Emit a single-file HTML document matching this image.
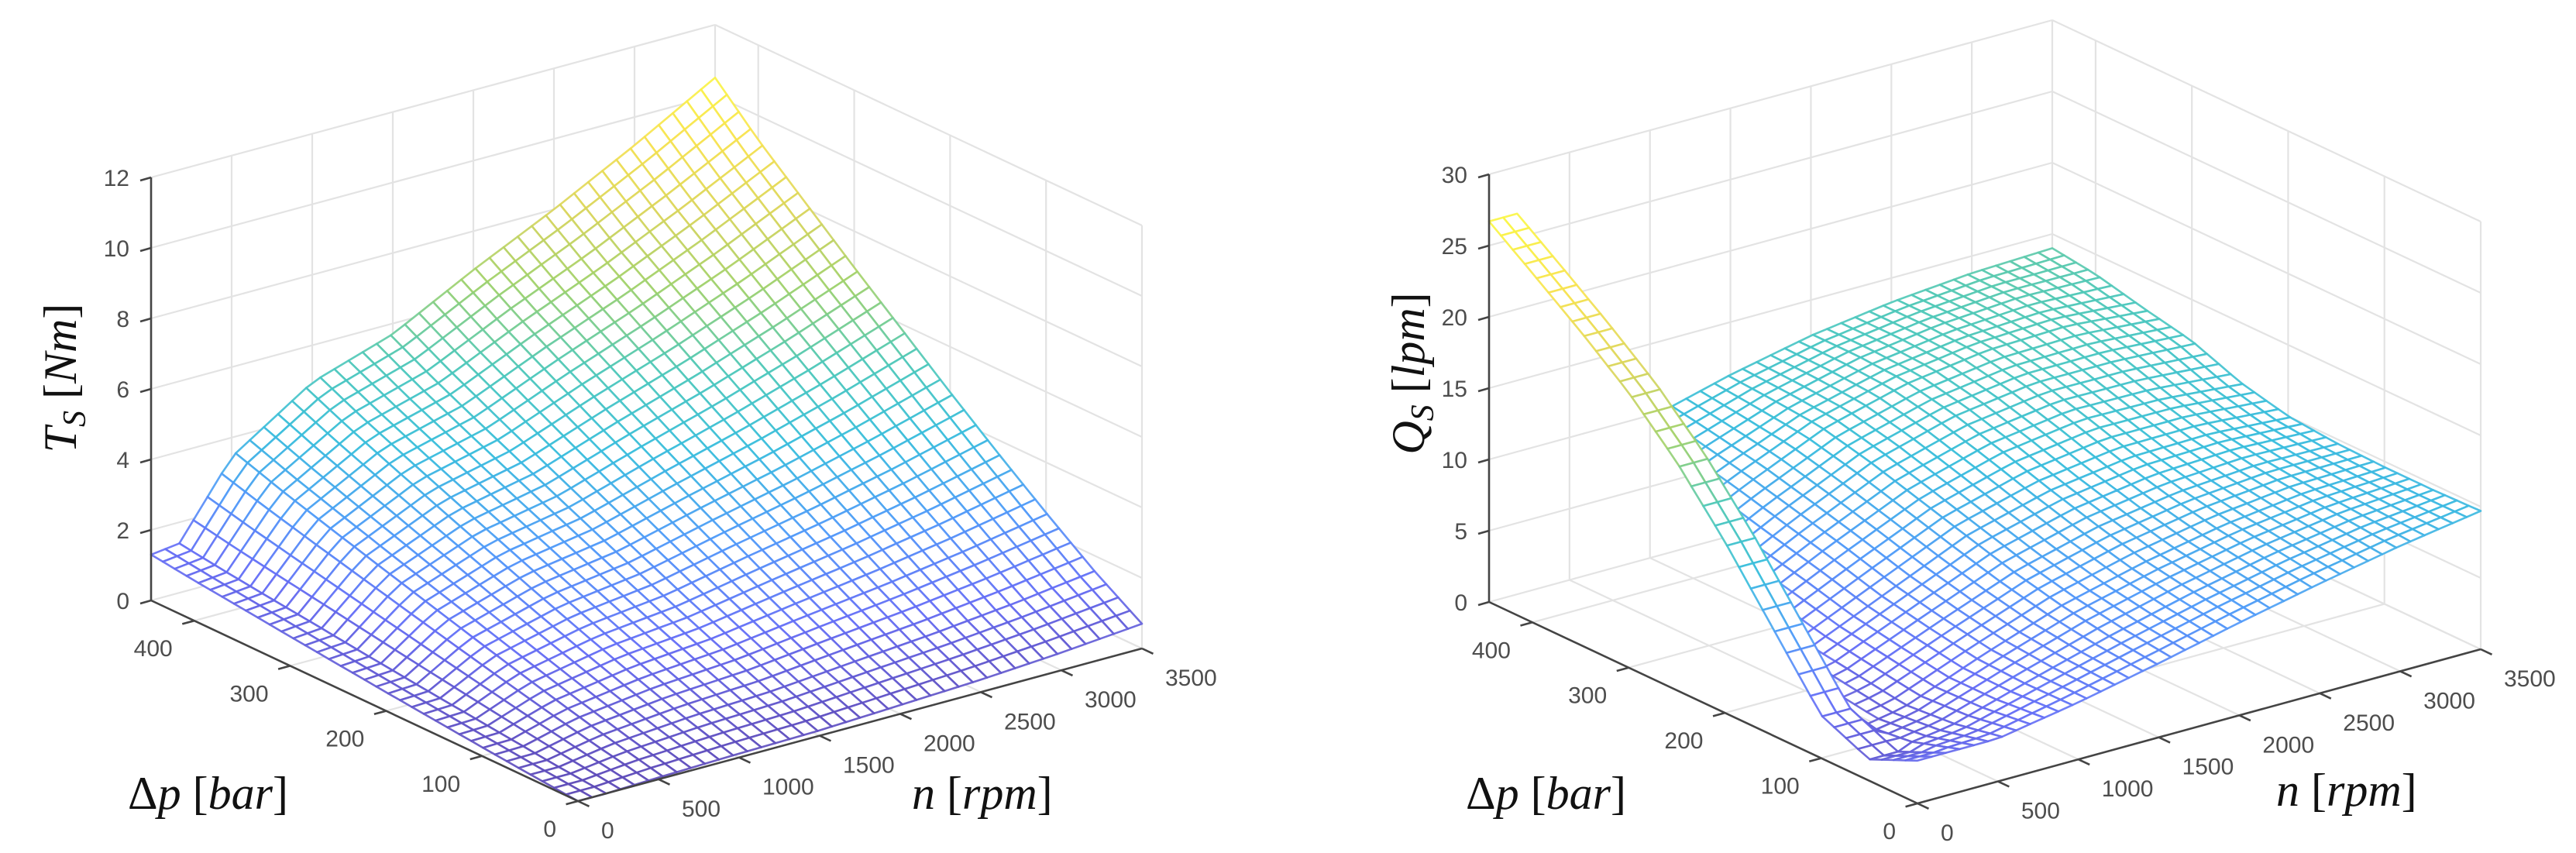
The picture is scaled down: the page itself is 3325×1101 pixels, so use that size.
<!DOCTYPE html>
<html><head><meta charset="utf-8"><style>
html,body{margin:0;padding:0;background:#fff;}
svg{display:block;}
.tick{font-family:"Liberation Sans",sans-serif;font-size:30px;fill:#4d4d4d;}
.title{font-family:"Liberation Serif",serif;font-size:60px;fill:#111;}
</style></head><body>
<svg id="fig" xmlns="http://www.w3.org/2000/svg" width="3325" height="1101" viewBox="0 0 3325 1101">
<rect x="0" y="0" width="3325" height="1101" fill="#fff"/>
<g id="left-plot"></g>
<g id="right-plot"></g>
<text class="title" transform="translate(98,488) rotate(-90)" text-anchor="middle"><tspan font-style="italic">T</tspan><tspan font-style="italic" font-size="42" dy="12">S</tspan><tspan dy="-12"> [</tspan><tspan font-style="italic">Nm</tspan><tspan>]</tspan></text>
<text class="title" x="165" y="1044">Δ<tspan font-style="italic">p</tspan> [<tspan font-style="italic">bar</tspan>]</text>
<text class="title" x="1177" y="1044"><tspan font-style="italic">n</tspan> [<tspan font-style="italic">rpm</tspan>]</text>
<text class="title" transform="translate(1838,482) rotate(-90)" text-anchor="middle"><tspan font-style="italic">Q</tspan><tspan font-style="italic" font-size="42" dy="12">S</tspan><tspan dy="-12"> [</tspan><tspan font-style="italic">lpm</tspan><tspan>]</tspan></text>
<text class="title" x="1892" y="1044">Δ<tspan font-style="italic">p</tspan> [<tspan font-style="italic">bar</tspan>]</text>
<text class="title" x="2938" y="1040"><tspan font-style="italic">n</tspan> [<tspan font-style="italic">rpm</tspan>]</text>
</svg>
<script>
// ---------- data: torque surface ----------
const tsPressure = [0, 50, 100, 150, 200, 250, 300, 350, 400, 445];
const tsSpeed = [0, 175, 500, 1000, 1500, 2000, 2500, 3000, 3500];
const tsTorque = [
 [0.00,0.00,0.05,0.11,0.15,0.25,0.35,0.50,0.70],
 [0.12,0.12,0.36,0.54,0.64,0.84,1.03,1.27,1.57],
 [0.25,0.27,0.70,1.03,1.21,1.52,1.81,2.16,2.57],
 [0.39,0.42,1.07,1.55,1.80,2.23,2.63,3.09,3.62],
 [0.53,0.57,1.45,2.09,2.42,2.97,3.48,4.06,4.71],
 [0.68,0.73,1.84,2.65,3.06,3.73,4.36,5.06,5.84],
 [0.83,0.90,2.23,3.21,3.70,4.51,5.25,6.07,6.97],
 [0.99,1.06,2.63,3.78,4.36,5.30,6.16,7.10,8.14],
 [1.14,1.23,3.04,4.37,5.03,6.10,7.07,8.15,9.31],
 [1.30,1.40,3.45,4.95,5.70,6.90,8.00,9.20,10.50]
];
// ---------- data: flow surface ----------
const qsPressure = [0, 50, 100, 150, 200, 250, 300, 350, 400, 445];
const qsSpeed = [0, 500, 1000, 1500, 2000, 2500, 3000, 3500];
const qsFlow = [
 [3.0,3.0,4.0,5.2,6.5,7.7,8.8,9.7],
 [1.5,2.3,4.0,5.6,7.0,8.2,9.1,9.6],
 [1.0,2.0,4.2,6.2,7.6,8.7,9.4,9.6],
 [1.5,2.5,4.8,7.0,8.5,9.4,9.8,9.7],
 [2.0,3.0,5.5,8.0,9.5,10.3,10.4,10.0],
 [2.5,3.8,6.5,9.0,10.6,11.4,11.3,10.8],
 [3.0,4.5,7.4,10.0,11.6,12.4,12.4,12.1],
 [3.5,5.5,8.3,10.8,12.3,13.1,13.3,12.8],
 [4.0,6.5,9.1,11.1,12.5,13.3,13.7,13.6],
 [4.5,7.0,9.8,11.3,12.5,13.3,13.8,14.0]
];
const qsStripFlow = [3.0,1.5,3.0,7.5,12.0,16.0,19.3,22.0,24.5,26.7];
const qsStripMaxSpeed = 175;
const qsMainMinSpeed = [200,200,250,370,480,600,710,830,950,1050];
// ---------- ticks ----------
const pTicks = [0,100,200,300,400];
const nTicks = [0,500,1000,1500,2000,2500,3000,3500];
const tzTicks = [0,2,4,6,8,10,12];
const qzTicks = [0,5,10,15,20,25,30];

const NS='http://www.w3.org/2000/svg';
function mk(tag, attrs, parent){const e=document.createElementNS(NS,tag);for(const k in attrs)e.setAttribute(k,attrs[k]);parent.appendChild(e);return e;}
function lerp1(xs, ys, x){
  if(x<=xs[0])return ys[0];
  for(let i=1;i<xs.length;i++){if(x<=xs[i]){const t=(x-xs[i-1])/(xs[i]-xs[i-1]);return ys[i-1]+t*(ys[i]-ys[i-1]);}}
  return ys[ys.length-1];
}
function bilin(ps, ns, grid, p, n){
  const col = ps.map((_,i)=>lerp1(ns, grid[i], n));
  return lerp1(ps, col, p);
}
const stops=[[0,[62,38,168]],[0.125,[72,82,244]],[0.25,[46,135,247]],[0.375,[18,177,214]],[0.5,[45,190,170]],[0.625,[140,200,80]],[0.75,[210,205,60]],[0.875,[245,220,45]],[1,[249,245,30]]];
function parula(t){
  t=Math.max(0,Math.min(1,t));
  for(let i=1;i<stops.length;i++){if(t<=stops[i][0]){const a=stops[i-1],b=stops[i];const u=(t-a[0])/(b[0]-a[0]);
    const c=a[1].map((v,k)=>Math.round((v+u*(b[1][k]-v))*0.85+255*0.15));return 'rgb('+c.join(',')+')';}}
  return 'rgb(249,245,30)';
}
function makeProj(L,F,R,pmax,nmax,zs){
  return (p,n,z)=>[F[0]+(L[0]-F[0])*(p/pmax)+(R[0]-F[0])*(n/nmax), F[1]+(L[1]-F[1])*(p/pmax)+(R[1]-F[1])*(n/nmax)-z*zs];
}
function drawAxes(g, proj, pmax, nmax, zmax, zTicks, prefix){
  const gg=mk('g',{},g);
  
  
  const st={stroke:'#e3e3e3','stroke-width':2.2,fill:'none'};
  const ln=(a,b)=>{const l=mk('line',Object.assign({x1:a[0],y1:a[1],x2:b[0],y2:b[1]},st),gg);
    
    };
  nTicks.forEach(n=>{ln(proj(0,n,0),proj(pmax,n,0)); ln(proj(pmax,n,0),proj(pmax,n,zmax));});
  pTicks.forEach(p=>{ln(proj(p,0,0),proj(p,nmax,0)); ln(proj(p,nmax,0),proj(p,nmax,zmax));});
  zTicks.forEach(z=>{ln(proj(pmax,0,z),proj(pmax,nmax,z)); ln(proj(0,nmax,z),proj(pmax,nmax,z));});
}
function drawAxisLines(g, proj, pmax, nmax, zmax, zTicks, prefix){
  const ax=mk('g',{stroke:'#444','stroke-width':2.6,fill:'none'},g);
  
  
  const L0=proj(pmax,0,0), Lt=proj(pmax,0,zmax), F0=proj(0,0,0), R0=proj(0,nmax,0);
  let e;
  e=mk('line',{x1:L0[0],y1:L0[1],x2:Lt[0],y2:Lt[1]},ax);
   
  e=mk('line',{x1:L0[0],y1:L0[1],x2:F0[0],y2:F0[1]},ax);
   
  e=mk('line',{x1:F0[0],y1:F0[1],x2:R0[0],y2:R0[1]},ax);
   
  zTicks.forEach(z=>{const a=proj(pmax,0,z);
    const t=mk('line',{x1:a[0],y1:a[1],x2:a[0]-14,y2:a[1]+4},ax);
     
    const tx=mk('text',{x:a[0]-28,y:a[1]+11,'text-anchor':'end',class:'tick',stroke:'none'},g);
     
    tx.textContent=String(z);});
  pTicks.forEach(p=>{const a=proj(p,0,0),b=proj(p,-150,0);const dx=b[0]-a[0],dy=b[1]-a[1],d=Math.hypot(dx,dy);
    const t=mk('line',{x1:a[0],y1:a[1],x2:a[0]+dx/d*16,y2:a[1]+dy/d*16},ax);
     
    const tx=mk('text',{x:a[0]-28,y:a[1]+46,'text-anchor':'end',class:'tick',stroke:'none'},g);
     
    tx.textContent=String(p);});
  nTicks.forEach(n=>{const a=proj(0,n,0),b=proj(-20,n,0);const dx=b[0]-a[0],dy=b[1]-a[1],d=Math.hypot(dx,dy);
    const t=mk('line',{x1:a[0],y1:a[1],x2:a[0]+dx/d*16,y2:a[1]+dy/d*16},ax);
     
    const tx=mk('text',{x:a[0]+30,y:a[1]+48,'text-anchor':'start',class:'tick',stroke:'none'},g);
     
    tx.textContent=String(n);});
}
function drawMesh(g, proj, pmax, nmax, zAxisMax, cmax, valueAt, validAt, prefix){
  const NP=36, NN=40;
  const nodes=[];
  for(let i=0;i<=NP;i++){nodes.push([]);for(let j=0;j<=NN;j++){const p=pmax*i/NP,n=nmax*j/NN;
    nodes[i].push({p,n,z:valueAt(p,n),ok:validAt(p,n)});}}
  const quads=[];
  for(let i=0;i<NP;i++)for(let j=0;j<NN;j++){
    const c=[nodes[i][j],nodes[i+1][j],nodes[i+1][j+1],nodes[i][j+1]];
    if(!c.every(q=>q.ok))continue;
    const za=(c[0].z+c[1].z+c[2].z+c[3].z)/4;
    const key=(c[0].p+c[2].p)/(2*pmax)+(c[0].n+c[2].n)/(2*nmax)-0.35*za/zAxisMax;
    quads.push({c,za,key});
  }
  quads.sort((a,b)=>b.key-a.key);
  const mg=mk('g',{'stroke-width':2.6,'stroke-linejoin':'round'},g);
  
  
  quads.forEach(q=>{
    const pts=q.c.map(v=>proj(v.p,v.n,v.z).map(x=>x.toFixed(1)).join(',')).join(' ');
    const pl=mk('polygon',{points:pts,fill:'#fff',stroke:parula(q.za/cmax),'stroke-opacity':0.9},mg);
    
    
  });
}
// ---------- left plot ----------
(function(){
  const g=document.getElementById('left-plot');
  const pmax=445,nmax=3500,zmax=12;
  const proj=makeProj([195,775],[746,1034],[1474,837],pmax,nmax,45.5);
  drawAxes(g,proj,pmax,nmax,zmax,tzTicks,'torque');
  const tmax=Math.max(...tsTorque.flat());
  drawMesh(g,proj,pmax,nmax,zmax,tmax,(p,n)=>bilin(tsPressure,tsSpeed,tsTorque,p,n),()=>true,'torque');
  drawAxisLines(g,proj,pmax,nmax,zmax,tzTicks,'torque');
})();
// ---------- right plot ----------
(function(){
  const g=document.getElementById('right-plot');
  const pmax=445,nmax=3500,zmax=30;
  const proj=makeProj([1922,777],[2475,1037],[3202,838],pmax,nmax,18.4);
  drawAxes(g,proj,pmax,nmax,zmax,qzTicks,'flow');
  const qmax=Math.max(...qsStripFlow, ...qsFlow.flat());
  const valueAt=(p,n)=> n<=qsStripMaxSpeed+1 ? lerp1(qsPressure,qsStripFlow,p) : bilin(qsPressure,qsSpeed,qsFlow,p,n);
  const validAt=(p,n)=> n<=qsStripMaxSpeed+1 || n>=lerp1(qsPressure,qsMainMinSpeed,p)-1;
  drawMesh(g,proj,pmax,nmax,zmax,qmax,valueAt,validAt,'flow');
  drawAxisLines(g,proj,pmax,nmax,zmax,qzTicks,'flow');
})();
</script>
</body></html>
